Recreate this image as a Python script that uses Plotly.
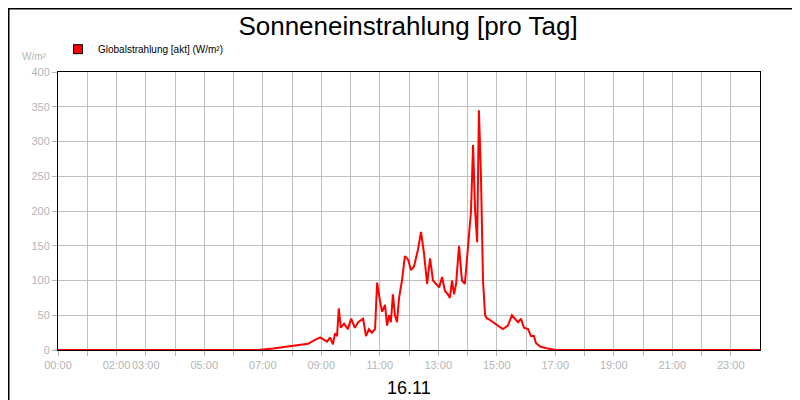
import plotly.graph_objects as go

# time in hours, value in W/m²
hours = [0, 6.84, 7.35, 7.86, 8.2, 8.55, 8.8, 8.96, 9.2, 9.3, 9.4, 9.47, 9.54, 9.6, 9.67,
         9.78, 9.91, 10.02, 10.15, 10.26, 10.43, 10.53, 10.63, 10.73, 10.84, 10.91, 11.01,
         11.08, 11.18, 11.25, 11.32, 11.38, 11.45, 11.52, 11.59, 11.66, 11.76, 11.86, 11.97,
         12.07, 12.17, 12.31, 12.41, 12.51, 12.62, 12.72, 12.82, 12.92, 13.03, 13.13, 13.23,
         13.33, 13.4, 13.47, 13.54, 13.61, 13.71, 13.81, 13.91, 14.02, 14.12, 14.19, 14.26,
         14.33, 14.39, 14.46, 14.53, 14.6, 14.67, 14.7, 14.87, 15.04, 15.21, 15.38, 15.52,
         15.62, 15.73, 15.83, 15.93, 16.07, 16.17, 16.27, 16.34, 16.48, 16.75, 17.03, 24]
values = [0, 0, 2, 5, 6, 9, 15, 18, 12, 18, 8, 24, 20, 60, 32,
          38, 30, 45, 32, 40, 45, 20, 30, 25, 30, 97, 70,
          55, 65, 35, 50, 40, 80, 50, 40, 75, 100, 135, 130,
          115, 120, 145, 170, 140, 95, 132, 100, 95, 90, 105, 85,
          80, 75, 100, 80, 95, 150, 100, 95, 150, 200, 295, 200,
          155, 345, 250, 100, 50, 45, 45, 40, 35, 30, 35, 50,
          45, 40, 45, 32, 30, 20, 20, 10, 5, 2, 0, 0]

labeled = {0: "00:00", 2: "02:00", 3: "03:00", 5: "05:00", 7: "07:00", 9: "09:00",
           11: "11:00", 13: "13:00", 15: "15:00", 17: "17:00", 19: "19:00",
           21: "21:00", 23: "23:00"}
tickvals = list(range(24))
ticktext = [labeled.get(h, "") for h in tickvals]

fig = go.Figure()
fig.add_trace(go.Scatter(x=hours, y=values, mode="lines",
                         line=dict(color="#ff0000", width=2), showlegend=False))
# legend entry with a square swatch
fig.add_trace(go.Scatter(x=[None], y=[None], mode="markers",
                         marker=dict(symbol="square", size=9, color="#ff0000",
                                     line=dict(color="black", width=1)),
                         name="Globalstrahlung [akt] (W/m²)"))

axis_font = dict(family="Liberation Sans, Arial", size=11, color="#b4b4b4")
fig.update_layout(
    width=800, height=400,
    paper_bgcolor="white", plot_bgcolor="white",
    margin=dict(l=50, r=48, t=64, b=58, autoexpand=False),
    title=dict(text="Sonneneinstrahlung [pro Tag]", x=0.5, xanchor="center",
               y=0.955, yanchor="middle",
               font=dict(family="Liberation Sans, Arial", size=26, color="black")),
    showlegend=True,
    legend=dict(x=0.0, y=1.03, xanchor="left", yanchor="bottom",
                font=dict(family="Liberation Sans, Arial", size=10, color="black"),
                itemwidth=30, bgcolor="rgba(0,0,0,0)",
                tracegroupgap=0, borderwidth=0),
    xaxis=dict(range=[0, 24], tickvals=tickvals, ticktext=ticktext, tickangle=0,
               showgrid=True, gridcolor="#c0c0c0", gridwidth=1,
               ticks="outside", ticklen=5, tickcolor="#b4b4b4",
               showline=True, linecolor="black", linewidth=1, mirror=True,
               zeroline=False, tickfont=axis_font, automargin=False),
    yaxis=dict(range=[0, 400], dtick=50,
               showgrid=True, gridcolor="#c0c0c0", gridwidth=1,
               ticks="outside", ticklen=5, tickcolor="#b4b4b4",
               showline=True, linecolor="black", linewidth=1, mirror=True,
               zeroline=False, tickfont=axis_font, automargin=False),
    shapes=[dict(type="rect", xref="paper", yref="paper", x0=-0.0705, x1=1.067,
                 y0=-0.2032, y1=1.2284, line=dict(color="black", width=2))],
    annotations=[
        dict(text="W/m²", xref="paper", yref="paper", x=-0.013, y=1.03,
             xanchor="right", yanchor="bottom", showarrow=False,
             font=dict(family="Liberation Sans, Arial", size=10, color="#b4b4b4")),
        dict(text="16.11", xref="paper", yref="paper", x=0.5, y=-0.095,
             xanchor="center", yanchor="top", showarrow=False,
             font=dict(family="Liberation Sans, Arial", size=18, color="black")),
    ],
)
fig.write_html("out.html")
